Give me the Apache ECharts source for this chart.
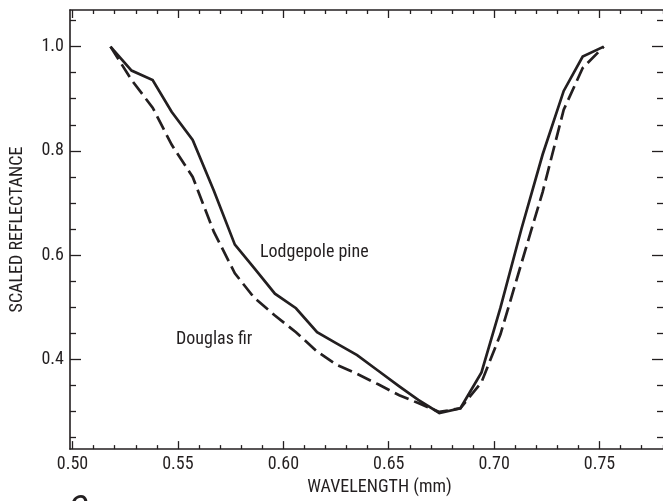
<!DOCTYPE html>
<html>
<head>
<meta charset="utf-8">
<script src="https://cdn.jsdelivr.net/npm/echarts@6/dist/echarts.min.js"></script>
<style>html,body{margin:0;padding:0;background:#fff}#c{width:663px;height:501px}</style>
</head>
<body>
<div id="c"></div>
<script>
// ---- data ----
const wavelengths = [0.518, 0.528, 0.538, 0.547, 0.557, 0.567, 0.577, 0.586, 0.596, 0.606, 0.616, 0.625, 0.635, 0.645, 0.655, 0.664, 0.674, 0.684, 0.694, 0.703, 0.713, 0.723, 0.733, 0.742, 0.752];
const lodgepolePine = [1.000, 0.954, 0.936, 0.875, 0.821, 0.724, 0.620, 0.576, 0.526, 0.498, 0.452, 0.431, 0.408, 0.378, 0.348, 0.322, 0.297, 0.306, 0.375, 0.499, 0.651, 0.793, 0.915, 0.981, 1.000];
const douglasFir = [1.000, 0.936, 0.883, 0.812, 0.750, 0.645, 0.565, 0.519, 0.484, 0.452, 0.415, 0.390, 0.372, 0.352, 0.331, 0.316, 0.299, 0.306, 0.356, 0.448, 0.585, 0.721, 0.879, 0.959, 1.000];
const seriesNames = ['Lodgepole pine', 'Douglas fir'];
const xMajorTicks = [0.50, 0.55, 0.60, 0.65, 0.70, 0.75];
const xMinorTicks = [0.51, 0.52, 0.53, 0.54, 0.56, 0.57, 0.58, 0.59, 0.61, 0.62, 0.63, 0.64, 0.66, 0.67, 0.68, 0.69, 0.71, 0.72, 0.73, 0.74, 0.76, 0.77, 0.78];
const yMajorTicks = [0.4, 0.6, 0.8, 1.0];
const yMinorTicks = [0.25, 0.30, 0.35, 0.45, 0.50, 0.55, 0.65, 0.70, 0.75, 0.85, 0.90, 0.95, 1.05];
const xRange = [0.4988, 0.7801];
const yRange = [0.2277, 1.0703];
const xTitle = 'WAVELENGTH (mm)';
const yTitle = 'SCALED REFLECTANCE';

// ---- styling ----
const INK = '#231f20';
const FONT = "'Liberation Sans Narrow', 'Arial Narrow', 'Roboto Condensed', 'Liberation Sans', sans-serif";
const FS = 18;

function axis(kind, position, ticks, len, opts) {
  const base = {
    type: 'value',
    position: position,
    min: kind === 'x' ? xRange[0] : yRange[0],
    max: kind === 'x' ? xRange[1] : yRange[1],
    splitLine: { show: false },
    axisLine: { show: !!opts.line, onZero: false, lineStyle: { color: INK, width: 1.6 } },
    axisTick: { show: true, inside: true, length: len, customValues: ticks, lineStyle: { color: INK, width: 1.3 } },
    axisLabel: { show: false },
    z: 5
  };
  if (opts.labels) {
    base.axisLabel = {
      show: true,
      customValues: ticks,
      margin: 6,
      color: INK,
      fontFamily: FONT,
      fontSize: FS,
      formatter: v => kind === 'x' ? Number(v).toFixed(2) : Number(v).toFixed(1)
    };
  }
  if (opts.name) {
    base.name = opts.name;
    base.nameLocation = 'middle';
    base.nameGap = opts.nameGap;
    base.nameTextStyle = { color: INK, fontFamily: FONT, fontSize: FS, padding: opts.namePad || 0 };
  }
  return base;
}

const chart = echarts.init(document.getElementById('c'), null, { renderer: 'canvas' });
const option = {
  animation: false,
  backgroundColor: '#fff',
  grid: { left: 67, right: 0, top: 10, bottom: 51, containLabel: false },
  xAxis: [
    axis('x', 'bottom', xMajorTicks, 8, { line: true, labels: true, name: xTitle, nameGap: 28, namePad: [0, 0, 0, 26] }),
    axis('x', 'bottom', xMinorTicks, 4, {}),
    axis('x', 'top', xMajorTicks, 8, { line: true }),
    axis('x', 'top', xMinorTicks, 4, {})
  ],
  yAxis: [
    axis('y', 'left', yMajorTicks, 11, { line: true, labels: true, name: yTitle, nameGap: 44 }),
    axis('y', 'left', yMinorTicks, 6, {}),
    axis('y', 'right', yMajorTicks, 11, {}),
    axis('y', 'right', yMinorTicks, 6, {})
  ],
  series: [
    {
      name: seriesNames[0], type: 'line', xAxisIndex: 0, yAxisIndex: 0,
      data: wavelengths.map((w, i) => [w, lodgepolePine[i]]),
      symbol: 'none', smooth: false,
      lineStyle: { color: INK, width: 2.7, join: 'miter' }
    },
    {
      name: seriesNames[1], type: 'line', xAxisIndex: 0, yAxisIndex: 0,
      data: wavelengths.map((w, i) => [w, douglasFir[i]]),
      symbol: 'none', smooth: false,
      lineStyle: { color: INK, width: 2.7, type: [15, 6], join: 'miter' }
    }
  ],
  graphic: [
    { type: 'text', left: 260, top: 243, style: { text: seriesNames[0], fill: INK, font: FS + "px " + FONT } },
    { type: 'text', left: 176, top: 330, style: { text: seriesNames[1], fill: INK, font: FS + "px " + FONT } },
    { type: 'text', left: 68, top: 494, style: { text: 'C', fill: INK, font: "italic 36px " + FONT } }
  ]
};
chart.setOption(option);
</script>
</body>
</html>
